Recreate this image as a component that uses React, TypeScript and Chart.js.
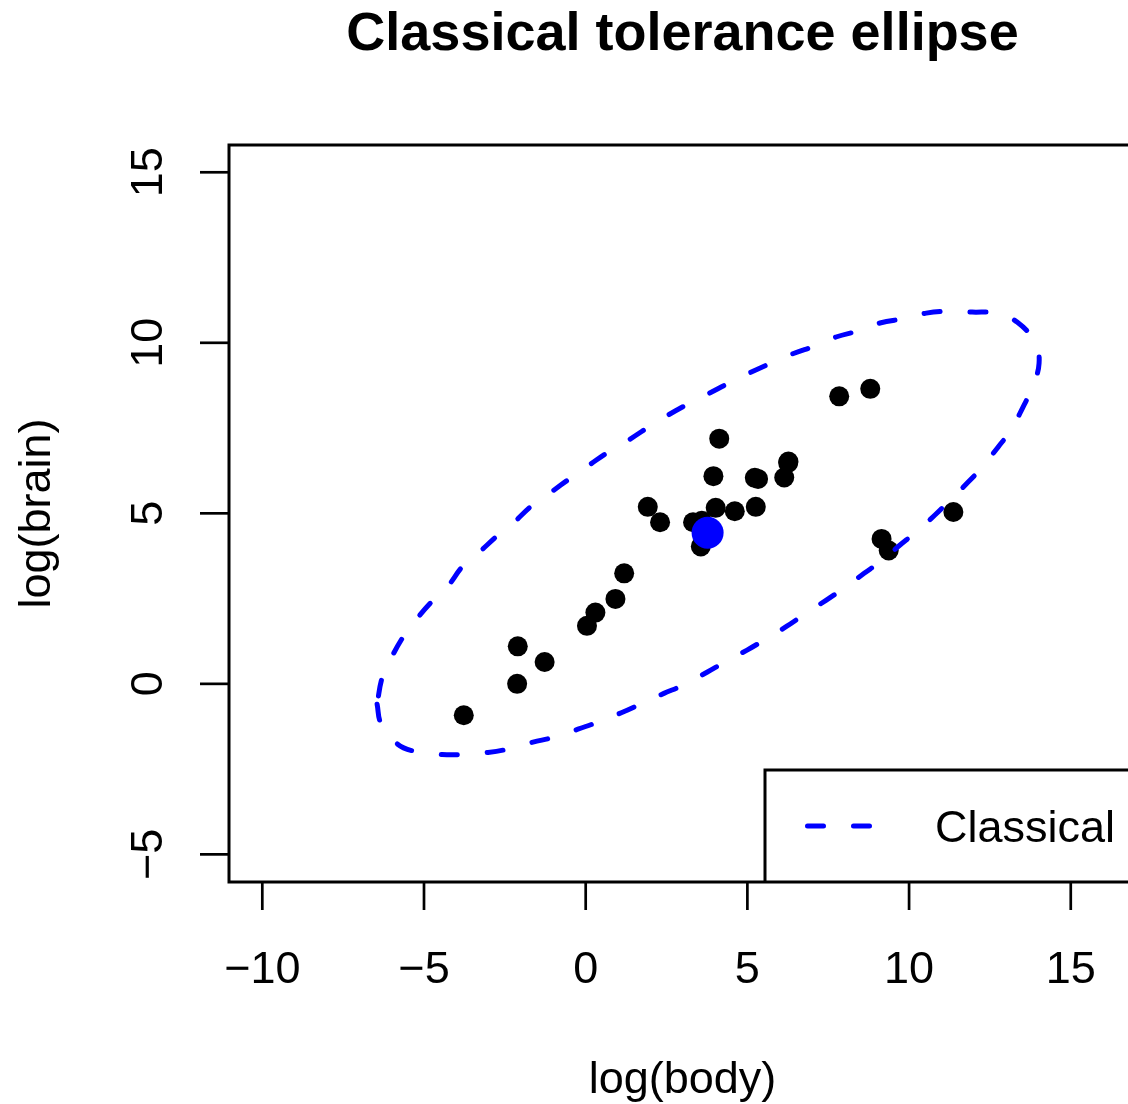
import React, { useEffect, useRef } from "react";
import { Chart, registerables } from "chart.js";

Chart.register(...registerables);

// Data: log(body), log(brain) for the Animals data points
const bodyLog = [0.30, 6.14, 3.59, 3.32, 0.04, 9.37, 7.84, 5.23, 6.26, 2.30, 1.19, 6.27, 5.33, 4.13, 8.80, 9.15, 1.92, 3.56, -2.12, -3.77, 0.92, 4.02, 4.61, 3.95, -1.27, 11.37, -2.10, 5.26];
const brainLog = [2.09, 6.05, 4.78, 4.74, 1.70, 3.91, 8.43, 6.04, 6.48, 4.74, 3.24, 6.52, 6.01, 7.19, 8.65, 4.25, 5.19, 4.03, 0.00, -0.92, 2.49, 5.16, 5.06, 6.09, 0.64, 5.04, 1.10, 5.19];

// Center (mean) of the classical ellipse
const centerX = [3.77];
const centerY = [4.43];

// Ellipse outline
const ellipseX = [-6.45, -6.33, -5.84, -5.28, -4.44, -3.82, -3.02, -2.44, -1.63, -1.01, -0.24, 0.35, 1.12, 1.68, 2.42, 3.01, 3.75, 4.25, 4.99, 5.51, 6.22, 6.72, 7.43, 7.93, 8.61, 9.13, 9.72, 10.21, 10.80, 11.27, 11.82, 12.26, 12.75, 13.15, 13.52, 13.80, 14.02, 13.89, 13.34, 12.72, 11.95, 11.33, 10.53, 9.90, 9.10, 8.51, 7.74, 7.15, 6.38, 5.79, 5.05, 4.49, 3.78, 3.23, 2.51, 1.99, 1.28, 0.75, 0.07, -0.42, -1.10, -1.63, -2.25, -2.71, -3.33, -3.80, -4.29, -4.75, -5.28, -5.65, -6.05, -6.30, -6.45];
const ellipseY = [-0.60, -1.16, -1.75, -1.98, -2.07, -2.07, -2.01, -1.92, -1.71, -1.57, -1.33, -1.13, -0.84, -0.60, -0.28, -0.04, 0.34, 0.61, 0.99, 1.28, 1.69, 2.01, 2.45, 2.77, 3.24, 3.60, 4.07, 4.45, 4.95, 5.39, 5.91, 6.35, 6.94, 7.44, 8.11, 8.67, 9.40, 10.02, 10.61, 10.87, 10.90, 10.93, 10.87, 10.72, 10.58, 10.37, 10.17, 9.93, 9.67, 9.43, 9.11, 8.85, 8.50, 8.24, 7.86, 7.56, 7.12, 6.83, 6.39, 6.07, 5.60, 5.25, 4.71, 4.36, 3.83, 3.45, 2.83, 2.42, 1.84, 1.37, 0.69, 0.16, -0.60];

const xTicks = [-10, -5, 0, 5, 10, 15];
const yTicks = [-5, 0, 5, 10, 15];

const titleText = "Classical tolerance ellipse";
const xTitle = "log(body)";
const yTitle = "log(brain)";
const legendLabel = "Classical";

const FONT = '"Liberation Sans", Arial, Helvetica, sans-serif';
const fmt = (v: number) => (v < 0 ? "\u2212" + Math.abs(v) : String(v));

const framePlugin = {
  id: "rframe",
  afterDraw(chart: any) {
    const { ctx, chartArea: a, scales } = chart;
    const xs = scales.x;
    const ys = scales.y;
    ctx.save();

    // legend box
    const lgLeft = 765;
    const lgTop = 770;
    ctx.fillStyle = "#ffffff";
    ctx.fillRect(lgLeft, lgTop, a.right - lgLeft + 10, a.bottom - lgTop);
    ctx.strokeStyle = "#000";
    ctx.lineWidth = 3;
    ctx.lineCap = "butt";
    ctx.beginPath();
    ctx.moveTo(a.right + 10, lgTop);
    ctx.lineTo(lgLeft, lgTop);
    ctx.lineTo(lgLeft, a.bottom);
    ctx.stroke();
    ctx.strokeStyle = "#0000ff";
    ctx.lineWidth = 5;
    ctx.lineCap = "round";
    ctx.setLineDash([16, 30]);
    ctx.beginPath();
    ctx.moveTo(807.5, 826);
    ctx.lineTo(872, 826);
    ctx.stroke();
    ctx.setLineDash([]);
    ctx.fillStyle = "#000";
    ctx.font = `45px ${FONT}`;
    ctx.textAlign = "left";
    ctx.textBaseline = "alphabetic";
    ctx.fillText(legendLabel, 935, 842);

    // plot frame (right edge lies outside the picture)
    ctx.strokeStyle = "#000";
    ctx.lineWidth = 3;
    ctx.lineCap = "butt";
    ctx.beginPath();
    ctx.moveTo(a.right + 10, a.top);
    ctx.lineTo(a.left, a.top);
    ctx.lineTo(a.left, a.bottom);
    ctx.lineTo(a.right + 10, a.bottom);
    ctx.stroke();

    // x axis ticks
    ctx.lineWidth = 2.7;
    ctx.font = `45px ${FONT}`;
    ctx.textAlign = "center";
    for (const v of xTicks) {
      const px = xs.getPixelForValue(v);
      ctx.beginPath();
      ctx.moveTo(px, a.bottom);
      ctx.lineTo(px, a.bottom + 28);
      ctx.stroke();
      ctx.fillText(fmt(v), px, a.bottom + 101);
    }
    // y axis ticks
    for (const v of yTicks) {
      const py = ys.getPixelForValue(v);
      ctx.beginPath();
      ctx.moveTo(a.left - 29, py);
      ctx.lineTo(a.left, py);
      ctx.stroke();
      ctx.save();
      ctx.translate(a.left - 67, py);
      ctx.rotate(-Math.PI / 2);
      ctx.fillText(fmt(v), 0, 0);
      ctx.restore();
    }

    // axis titles
    const midX = 682.5;
    ctx.fillText(xTitle, midX, 1093);
    ctx.save();
    ctx.translate(50, (a.top + a.bottom) / 2);
    ctx.rotate(-Math.PI / 2);
    ctx.fillText(yTitle, 0, 0);
    ctx.restore();

    // main title
    ctx.font = `bold 54px ${FONT}`;
    ctx.fillText(titleText, midX, 50);

    ctx.restore();
  },
};

export default function App() {
  const ref = useRef<HTMLCanvasElement>(null);

  useEffect(() => {
    if (!ref.current) return;
    const points = bodyLog.map((x, i) => ({ x, y: brainLog[i] }));
    const center = centerX.map((x, i) => ({ x, y: centerY[i] }));
    const ellipse = ellipseX.map((x, i) => ({ x, y: ellipseY[i] }));

    const chart = new Chart(ref.current, {
      type: "scatter",
      data: {
        datasets: [
          {
            label: "center",
            data: center,
            pointRadius: 16,
            pointBackgroundColor: "#0000ff",
            pointBorderWidth: 0,
            showLine: false,
            order: 0,
          },
          {
            label: legendLabel,
            data: ellipse,
            showLine: true,
            pointRadius: 0,
            borderColor: "#0000ff",
            borderWidth: 5,
            borderDash: [16, 30],
            borderCapStyle: "round",
            tension: 0.4,
            fill: false,
            order: 1,
          },
          {
            label: "data",
            data: points,
            pointRadius: 10,
            pointBackgroundColor: "#000000",
            pointBorderWidth: 0,
            showLine: false,
            order: 2,
          },
        ],
      },
      options: {
        responsive: false,
        animation: false,
        devicePixelRatio: 1,
        events: [],
        layout: { autoPadding: false, padding: { left: 229, top: 145, right: 0, bottom: 222 } },
        plugins: {
          legend: { display: false },
          title: { display: false },
          tooltip: { enabled: false },
        },
        scales: {
          x: { type: "linear", min: -11.03, max: 16.77, display: false },
          y: { type: "linear", min: -5.81, max: 15.8, display: false },
        },
      } as any,
      plugins: [framePlugin],
    });
    return () => chart.destroy();
  }, []);

  return (
    <div style={{ position: "absolute", left: 0, top: 0, width: 1128, height: 1104, background: "#fff" }}>
      <canvas ref={ref} width={1128} height={1104} style={{ display: "block" }} />
    </div>
  );
}
